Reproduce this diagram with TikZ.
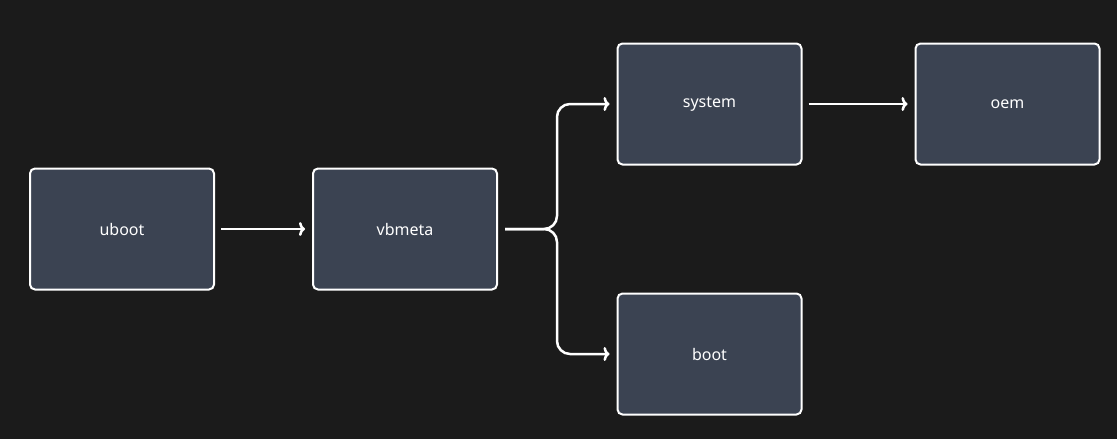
\documentclass[tikz,border=0pt]{standalone}
\usepackage{fontspec}
\setmainfont{Noto Sans}
\usetikzlibrary{arrows.meta}
\definecolor{bg}{HTML}{1B1B1B}
\definecolor{boxfill}{HTML}{3B4352}
\begin{document}
\begin{tikzpicture}[x=1pt,y=-1pt,
  box/.style={draw=white,line width=2pt,fill=boxfill,rounded corners=5pt,minimum width=184pt,minimum height=121pt,text=white,font=\fontsize{16}{18}\selectfont,inner sep=0pt},
  arr/.style={draw=white,line width=2.5pt,-{To[length=6pt,width=14pt]},rounded corners=13pt}]
\fill[bg] (0,0) rectangle (1117,439);
\useasboundingbox (0,0) rectangle (1117,439);
\node[box] (uboot) at (122,229) {uboot};
\node[box] (vb) at (405,229) {vbmeta};
\node[box] (sys) at (709.5,104) {system};
\node[box] (oem) at (1007.5,104) {oem};
\node[box] (boot) at (709.5,354) {boot};
\draw[arr] ([xshift=6pt]uboot.east) -- ([xshift=-7pt]vb.west);
\draw[arr] ([xshift=6pt]oem.west -| sys.east) -- ([xshift=-7pt]oem.west);
\coordinate (br) at (557,229);
\draw[arr] ([xshift=7pt]vb.east) -- (br) |- ([xshift=-7pt]sys.west);
\draw[arr] ([xshift=7pt]vb.east) -- (br) |- ([xshift=-7pt]boot.west);
\end{tikzpicture}
\end{document}
